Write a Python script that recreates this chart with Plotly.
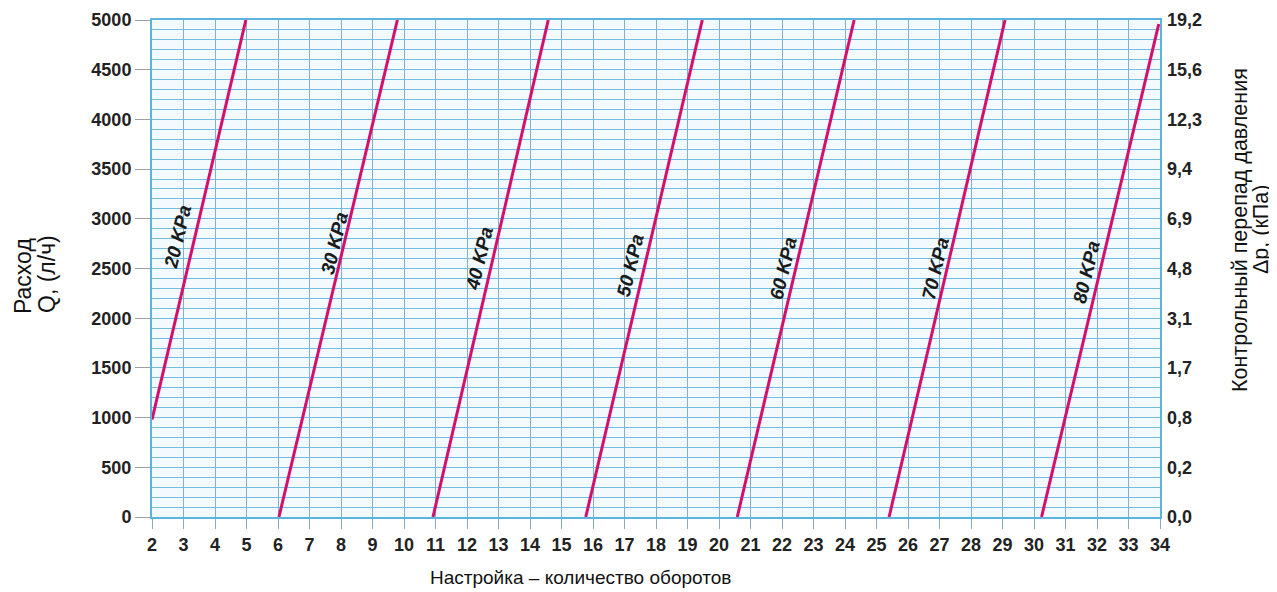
import plotly.graph_objects as go

# Pressure-drop lines: turns (x) vs flow Q (l/h)
series_names = ["20 KPa", "30 KPa", "40 KPa", "50 KPa", "60 KPa", "70 KPa", "80 KPa"]
line_x = [[2.0, 4.98], [6.03, 9.79], [10.92, 14.58], [15.77, 19.47],
          [20.58, 24.29], [25.40, 29.08], [30.24, 33.96]]
line_y = [[980, 5000], [0, 5000], [0, 5000], [0, 5000],
          [0, 5000], [0, 5000], [0, 4960]]
label_x = [2.83, 7.81, 12.41, 17.17, 22.03, 26.86, 31.68]
label_y = [2817, 2757, 2606, 2535, 2505, 2505, 2465]

x_ticks = list(range(2, 35))
q_ticks = [0, 500, 1000, 1500, 2000, 2500, 3000, 3500, 4000, 4500, 5000]
dp_ticktext = ["0,0", "0,2", "0,8", "1,7", "3,1", "4,8", "6,9", "9,4", "12,3", "15,6", "19,2"]

LINE_COLOR = "#d4106e"
GRID_H = "#74bde0"
GRID_V = "#7fb0cc"
FONT = "Liberation Sans, Arial, sans-serif"

# page body has an 8px margin; plot area spans window px x 152..1160, y 20..517
OFF = 8
PX_L, PX_R, PX_T, PX_B = 152, 1160, 20, 517
W, H = 1277, 592

fig = go.Figure()
for name, xs, ys in zip(series_names, line_x, line_y):
    fig.add_trace(go.Scatter(x=xs, y=ys, mode="lines", name=name,
                             line=dict(color=LINE_COLOR, width=3),
                             showlegend=False, hoverinfo="skip"))

# invisible trace to bind the right axis
fig.add_trace(go.Scatter(x=[x_ticks[0]], y=[q_ticks[0]], yaxis="y2", mode="markers",
                         marker=dict(opacity=0), showlegend=False, hoverinfo="skip"))

for name, lx, ly in zip(series_names, label_x, label_y):
    fig.add_annotation(x=lx, y=ly, xref="x", yref="y", text="<b><i>" + name + "</i></b>",
                       showarrow=False, textangle=-76.6,
                       font=dict(family=FONT, size=19, color="#1a1a1a"))

tickfont = dict(family=FONT, size=18, color="#222222", weight="bold")

fig.update_layout(
    width=W - OFF, height=H - OFF,
    margin=dict(l=PX_L - OFF, r=W - PX_R, t=PX_T - OFF, b=H - PX_B, autoexpand=False),
    paper_bgcolor="white",
    plot_bgcolor="#f2fafd",
    xaxis=dict(range=[2, 34], tickvals=x_ticks, ticktext=[str(v) for v in x_ticks],
               showgrid=True, gridcolor=GRID_V, gridwidth=1,
               ticks="outside", ticklen=10, tickcolor="#8aaabb", tickwidth=1,
               showline=True, linecolor="#5ab4dc", linewidth=2, mirror=True,
               zeroline=False, tickfont=tickfont, tickangle=0),
    yaxis=dict(range=[0, 5000], tickvals=q_ticks, ticktext=[str(v) for v in q_ticks],
               showgrid=True, gridcolor=GRID_H, gridwidth=1,
               minor=dict(dtick=100, tick0=0, showgrid=True, gridcolor=GRID_H, gridwidth=1),
               ticks="outside", ticklen=15, tickcolor="#a0a0a0", tickwidth=1,
               showline=True, linecolor="#5ab4dc", linewidth=2, mirror=True,
               zeroline=False, tickfont=tickfont),
    yaxis2=dict(range=[0, 5000], overlaying="y", side="right",
                tickvals=q_ticks, ticktext=dp_ticktext,
                showgrid=False, zeroline=False, showline=False,
                ticks="", ticklabelstandoff=6, tickfont=tickfont),
)


def px_x(px):
    return (px - PX_L) / (PX_R - PX_L)


def px_y(py):
    return (PX_B - py) / (PX_B - PX_T)


def title(text, px, py, size, angle):
    fig.add_annotation(xref="paper", yref="paper", x=px_x(px), y=px_y(py), text=text,
                       showarrow=False, textangle=angle,
                       font=dict(family=FONT, size=size, color="#111111"),
                       xanchor="center", yanchor="middle")


title("Расход", 23, 276, 23, -90)
title("Q, (л/ч)", 47, 274, 23, -90)
title("Контрольный перепад давления", 1240, 230, 21.5, -90)
title("Δp, (кПа)", 1261, 230, 21.5, -90)
title("Настройка – количество оборотов", 580, 577, 19, 0)

fig.write_html("out.html")
